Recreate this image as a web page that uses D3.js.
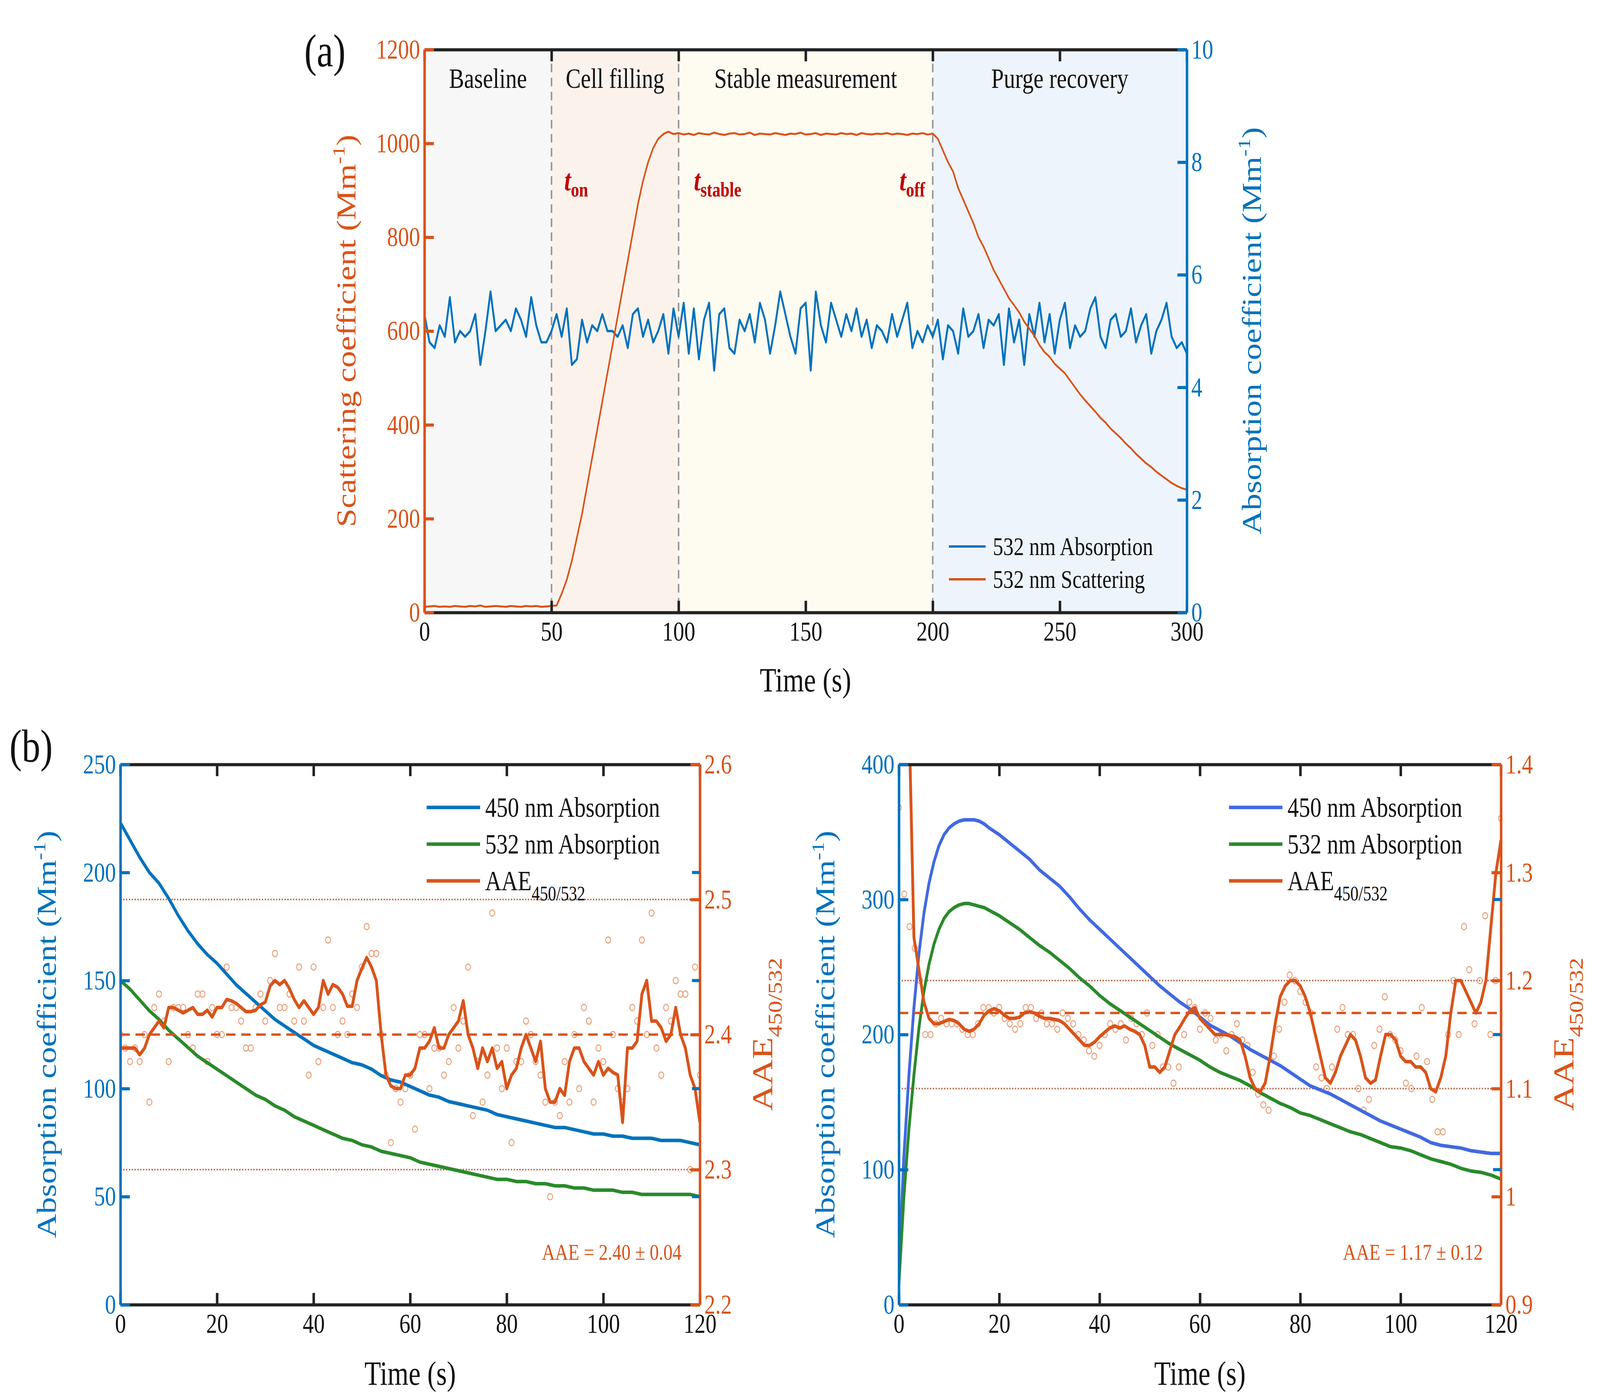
<!DOCTYPE html>
<html><head><meta charset="utf-8">
<script src="https://cdn.jsdelivr.net/npm/d3@7"></script>
<style>
html,body{margin:0;padding:0;background:#fff;overflow:hidden}
svg{display:block;width:100vw;height:100vh}
text{font-family:"Liberation Serif","Times New Roman",serif}
</style></head>
<body><div id="chart"></div>
<script>
// ---- panel (a) data ----
const absA = [5.3,4.8,4.7,5.1,4.9,5.6,4.8,5.0,4.9,5.0,5.3,4.4,5.0,5.7,5.0,5.1,5.2,5.0,5.4,5.2,4.9,5.6,5.1,4.8,4.8,5.0,5.3,4.9,5.4,4.4,4.5,5.2,4.8,5.1,5.0,5.3,5.0,5.0,4.9,5.1,
  4.7,5.3,5.4,4.9,5.2,4.8,5.0,5.3,4.6,5.4,4.9,5.5,4.6,5.4,4.5,5.2,5.5,4.3,5.3,5.4,4.7,4.6,5.2,5.0,5.3,4.8,5.5,5.2,4.6,5.1,
  5.7,5.3,4.9,4.6,5.4,5.5,4.3,5.7,5.1,4.8,5.5,5.2,4.9,5.3,5.0,5.4,4.9,5.2,4.7,5.1,5.0,4.8,5.3,4.9,5.2,5.5,4.7,5.0,4.8,5.1,
  4.9,5.2,4.5,5.1,5.0,4.6,5.4,4.9,5.0,5.3,4.7,5.2,5.1,5.3,4.4,5.4,4.8,5.2,4.4,5.3,4.9,5.5,4.8,5.3,4.6,5.2,5.5,4.7,5.1,4.9,
  5.0,5.4,5.6,4.9,4.7,5.2,5.3,4.9,5.0,5.4,4.8,5.1,5.3,4.6,5.0,5.2,5.5,4.9,4.7,4.8,4.6];
const scatA = [12,13,14,12,13,12,14,13,12,14,13,15,12,13,14,13,12,14,13,12,14,13,14,12,13,14,15,40,70,110,160,210,270,330,390,450,
  510,570,630,690,750,810,870,920,960,990,1010,1020,1025,1020,1022,1019,1021,1018,1022,1020,1019,1023,1020,1018,1021,1022,
  1019,1020,1023,1018,1021,1020,1019,1022,1020,1018,1021,1020,1023,1019,1020,1022,1018,1021,1020,1019,1022,1020,1021,1018,
  1022,1020,1019,1021,1020,1022,1019,1021,1020,1018,1021,1020,1022,1019,1021,1010,985,960,940,905,880,855,830,800,780,755,730,710,690,670,655,
  640,620,605,590,570,555,545,530,520,510,495,480,465,452,440,428,415,405,392,382,372,360,350,338,328,318,310,300,292,
  284,276,270,265,262];
const regionNames = ["Baseline","Cell filling","Stable measurement","Purge recovery"];
const regionEdges = [0,50,100,200,300];
const regionFill = ["#f7f7f8","#fcf2ec","#fefbf1","#eef4fb"];

// ---- panel (b) left data ----
const tLeft = d3.range(0,121,2);
const abs450L = [223,215,207,200,195,188,180,173,167,162,158,153,148,144,140,136,132,129,126,123,120,118,116,114,112,111,109,106,104,103,101,99,97,96,94,93,92,91,90,88,87,86,85,84,83,82,82,81,80,79,79,78,78,77,77,77,76,76,76,75,74];
const abs532L = [150,146,141,136,132,127,123,119,115,112,109,106,103,100,97,95,92,90,87,85,83,81,79,77,76,74,73,71,70,69,68,66,65,64,63,62,61,60,59,58,58,57,57,56,56,55,55,54,54,53,53,53,52,52,51,51,51,51,51,51,50];
const aaeLineL = [2.39,2.39,2.39,2.39,2.385,2.39,2.40,2.405,2.41,2.405,2.42,2.42,2.418,2.416,2.418,2.42,2.415,2.415,2.418,2.413,2.42,2.42,2.426,2.425,2.423,2.42,2.417,2.417,2.418,2.422,2.424,2.436,2.44,2.437,2.44,2.434,2.426,2.42,2.425,2.42,2.415,2.42,2.44,2.43,2.437,2.435,2.43,2.421,2.421,2.44,2.449,2.457,2.45,2.44,2.40,2.37,2.362,2.36,2.36,2.37,2.37,2.375,2.39,2.39,2.395,2.405,2.39,2.39,2.40,2.405,2.41,2.425,2.40,2.39,2.375,2.39,2.38,2.39,2.375,2.38,2.36,2.37,2.375,2.39,2.40,2.39,2.38,2.395,2.36,2.35,2.35,2.36,2.355,2.38,2.39,2.39,2.38,2.375,2.37,2.38,2.37,2.375,2.372,2.37,2.335,2.39,2.39,2.395,2.43,2.44,2.41,2.41,2.405,2.395,2.40,2.42,2.40,2.39,2.37,2.36,2.335];
const aaePtsL = [2.40,2.39,2.38,2.39,2.38,2.40,2.35,2.42,2.43,2.41,2.38,2.42,2.42,2.42,2.40,2.39,2.43,2.43,2.38,2.42,2.40,2.40,2.45,2.42,2.42,2.41,2.39,2.39,2.42,2.43,2.41,2.44,2.46,2.42,2.42,2.43,2.41,2.45,2.41,2.37,2.45,2.38,2.42,2.47,2.42,2.40,2.41,2.40,2.43,2.42,2.45,2.48,2.46,2.46,2.40,2.37,2.32,2.36,2.35,2.36,2.37,2.33,2.40,2.40,2.36,2.39,2.39,2.37,2.38,2.42,2.39,2.41,2.45,2.34,2.38,2.35,2.37,2.49,2.39,2.36,2.39,2.32,2.38,2.38,2.41,2.40,2.38,2.37,2.35,2.28,2.35,2.34,2.38,2.35,2.40,2.36,2.42,2.41,2.35,2.39,2.38,2.47,2.40,2.36,2.35,2.36,2.42,2.41,2.47,2.40,2.49,2.39,2.37,2.42,2.41,2.44,2.43,2.43,2.30,2.45,2.37];

// ---- panel (b) right data ----
const tRight = [0,1,2,3,4,5,6,7,8,9,10,11,12,13,14,15,16,17,18,20,22,24,26,28,30,32,34,36,38,40,42,44,46,48,50,52,54,56,58,60,62,64,66,68,70,72,74,76,78,80,82,84,86,88,90,92,94,96,98,100,102,104,106,108,110,112,114,116,118,120];
const abs450R = [25,110,170,220,260,290,312,328,340,348,353,356,358,359,359,359,358,356,353,348,342,336,330,322,316,310,302,293,285,278,271,264,257,250,243,236,230,224,219,213,207,203,199,194,189,185,181,177,172,167,162,159,156,152,148,144,140,136,133,130,127,124,120,118,117,116,114,113,112,112];
const abs532R = [15,80,130,170,205,232,252,267,278,286,291,294,296,297,297,296,295,294,292,288,283,278,272,266,261,255,249,242,236,229,223,218,213,208,203,198,193,189,185,181,176,172,169,166,162,157,153,149,146,142,140,137,134,131,128,126,123,120,117,116,114,111,108,106,104,101,99,98,96,93];
const aaeLineR = [1.6,1.6,1.45,1.24,1.21,1.18,1.165,1.16,1.16,1.162,1.164,1.163,1.16,1.155,1.153,1.155,1.16,1.168,1.172,1.174,1.172,1.168,1.165,1.165,1.166,1.17,1.171,1.17,1.167,1.165,1.165,1.164,1.163,1.16,1.155,1.15,1.145,1.14,1.14,1.143,1.148,1.152,1.156,1.158,1.156,1.158,1.155,1.153,1.15,1.14,1.12,1.12,1.115,1.12,1.135,1.15,1.157,1.165,1.172,1.175,1.165,1.16,1.155,1.15,1.15,1.15,1.149,1.148,1.145,1.13,1.11,1.1,1.097,1.105,1.13,1.16,1.185,1.195,1.2,1.2,1.195,1.185,1.17,1.15,1.13,1.11,1.105,1.115,1.13,1.14,1.15,1.145,1.13,1.11,1.105,1.108,1.13,1.15,1.15,1.145,1.13,1.125,1.125,1.12,1.12,1.115,1.1,1.097,1.11,1.13,1.17,1.2,1.2,1.19,1.18,1.17,1.18,1.2,1.25,1.3,1.33];
const aaePtsR = [1.36,1.28,1.25,1.23,1.2,1.15,1.15,1.16,1.165,1.16,1.16,1.16,1.155,1.15,1.15,1.16,1.175,1.175,1.17,1.175,1.165,1.16,1.155,1.16,1.175,1.175,1.165,1.17,1.16,1.16,1.155,1.17,1.165,1.16,1.15,1.145,1.135,1.13,1.14,1.15,1.16,1.155,1.16,1.145,1.165,1.16,1.15,1.17,1.14,1.15,1.12,1.12,1.105,1.12,1.15,1.18,1.175,1.155,1.17,1.165,1.145,1.15,1.135,1.15,1.16,1.145,1.14,1.115,1.095,1.085,1.08,1.13,1.155,1.18,1.205,1.2,1.19,1.18,1.17,1.12,1.11,1.1,1.12,1.155,1.175,1.15,1.15,1.1,1.08,1.09,1.14,1.155,1.185,1.15,1.145,1.135,1.105,1.1,1.13,1.175,1.125,1.09,1.06,1.06,1.15,1.2,1.15,1.25,1.21,1.16,1.2,1.26,1.15,1.2,1.35];

const BLUE="#0072bd", ORANGE="#d95319", GREEN="#2a8a2a", ROYAL="#4169e1", DARKRED="#c00000", DOT="#b5603e";
const W=5089, H=3584, TICK=70, LAB=86;

// stretch the drawing to the whole window
const svg = d3.select("#chart").append("svg").attr("viewBox",`0 0 ${W} ${H}`).attr("preserveAspectRatio","none");
svg.append("rect").attr("width",W).attr("height",H).attr("fill","#fff");

function styleAxis(sel, col) {
  sel.selectAll("path,line").attr("stroke",col).attr("stroke-width",8);
  sel.selectAll("text").attr("fill",col).attr("font-size",TICK).attr("font-family","Liberation Serif");
}

function axes(g, x, yL, yR, o) {
  const [x0,x1]=x.range(), [b,t]=yL.range();
  const ab=g.append("g").attr("transform",`translate(0,${b})`).call(d3.axisBottom(x).tickValues(o.xt).tickSize(-30).tickSizeOuter(0).tickPadding(22));
  const at=g.append("g").attr("transform",`translate(0,${t})`).call(d3.axisTop(x).tickValues(o.xt).tickSize(-30).tickSizeOuter(0).tickFormat(""));
  const al=g.append("g").attr("transform",`translate(${x0},0)`).call(d3.axisLeft(yL).tickValues(o.ylt).tickSize(-30).tickSizeOuter(0).tickPadding(14).tickFormat(d3.format("d")));
  const ar=g.append("g").attr("transform",`translate(${x1},0)`).call(d3.axisRight(yR).tickValues(o.yrt).tickSize(-30).tickSizeOuter(0).tickPadding(14).tickFormat(o.yrf||d3.format("d")));
  styleAxis(ab,"#222"); styleAxis(at,"#222");
  ab.selectAll("text").attr("fill","#111");
  styleAxis(al,o.lc); styleAxis(ar,o.rc);
  if (o.mirror) {
    g.append("g").selectAll("line").data(o.ylt.slice(1,-1)).join("line")
      .attr("x1",x1-25).attr("x2",x1).attr("y1",d=>yL(d)).attr("y2",d=>yL(d)).attr("stroke",o.lc).attr("stroke-width",8);
  }
}

function line(g, xs, ys, x, y, col, w) {
  g.append("path").datum(ys.map((v,i)=>[xs[i],v]))
    .attr("d",d3.line().x(d=>x(d[0])).y(d=>y(d[1])))
    .attr("fill","none").attr("stroke",col).attr("stroke-width",w).attr("stroke-linejoin","round");
}

function ylabel(x, y, col, html, size) {
  svg.append("text").attr("transform",`translate(${x},${y}) rotate(-90)`).attr("text-anchor","middle")
    .attr("fill",col).attr("font-size",size||LAB).html(html);
}

// ================= panel (a) =================
{
  const x=d3.scaleLinear([0,300],[1350,3775]);
  const yS=d3.scaleLinear([0,1200],[1568,127]);
  const yA=d3.scaleLinear([0,10],[1568,127]);
  const g=svg.append("g");
  regionNames.forEach((n,i)=>{
    g.append("rect").attr("x",x(regionEdges[i])).attr("y",127).attr("width",x(regionEdges[i+1])-x(regionEdges[i])).attr("height",1441).attr("fill",regionFill[i]);
    g.append("text").attr("x",x((regionEdges[i]+regionEdges[i+1])/2)).attr("y",225).attr("text-anchor","middle").attr("font-size",72).attr("fill","#111").text(n);
  });
  [50,100,200].forEach(v=>g.append("line").attr("x1",x(v)).attr("x2",x(v)).attr("y1",127).attr("y2",1568).attr("stroke","#999").attr("stroke-width",5).attr("stroke-dasharray","22,14"));
  line(g, d3.range(0,301,2), absA, x, yA, BLUE, 6);
  line(g, d3.range(0,301,2), scatA, x, yS, ORANGE, 5);
  const tl=[["on",55,"start"],["stable",106,"start"],["off",197,"end"]];
  tl.forEach(([s,t,a])=>g.append("text").attr("x",x(t)).attr("y",yS(900)).attr("text-anchor",a).attr("fill",DARKRED).attr("font-size",76).attr("font-weight","bold")
    .html(`<tspan font-style="italic">t</tspan><tspan font-size="52" dy="16">${s}</tspan>`));
  axes(g,x,yS,yA,{xt:d3.range(0,301,50),ylt:d3.range(0,1201,200),yrt:d3.range(0,11,2),lc:ORANGE,rc:BLUE});
  [["532 nm Absorption",BLUE],["532 nm Scattering",ORANGE]].forEach(([n,c],i)=>{
    const yy=1399+i*84;
    g.append("line").attr("x1",3018).attr("x2",3135).attr("y1",yy).attr("y2",yy).attr("stroke",c).attr("stroke-width",6);
    g.append("text").attr("x",3158).attr("y",yy+22).attr("font-size",66).attr("fill","#111").text(n);
  });
  svg.append("text").attr("x",2562).attr("y",1770).attr("text-anchor","middle").attr("font-size",LAB).attr("fill","#111").text("Time (s)");
  ylabel(1130,847,ORANGE,'Scattering coefficient (Mm<tspan font-size="56" dy="-34">-1</tspan><tspan dy="34">)</tspan>');
  ylabel(4010,847,BLUE,'Absorption coefficient (Mm<tspan font-size="56" dy="-34">-1</tspan><tspan dy="34">)</tspan>');
  svg.append("text").attr("x",968).attr("y",170).attr("font-size",118).attr("fill","#111").text("(a)");
}

// ================= panel (b) =================
function panelB(o) {
  const x=d3.scaleLinear([0,120],[o.x0,o.x1]);
  const yL=d3.scaleLinear(o.yld,[3340,1957]);
  const yR=d3.scaleLinear(o.yrd,[3340,1957]);
  const g=svg.append("g");
  const cid="clip"+o.x0;
  g.append("clipPath").attr("id",cid).append("rect").attr("x",o.x0).attr("y",1957).attr("width",o.x1-o.x0).attr("height",1383);
  const p=g.append("g").attr("clip-path",`url(#${cid})`);
  o.dotted.forEach(v=>p.append("line").attr("x1",o.x0).attr("x2",o.x1).attr("y1",yR(v)).attr("y2",yR(v)).attr("stroke",DOT).attr("stroke-width",4).attr("stroke-dasharray","4,5"));
  p.append("g").selectAll("circle").data(o.pts).join("circle")
    .attr("cx",(d,i)=>x(i*120/(o.pts.length-1))).attr("cy",d=>yR(d)).attr("r",8)
    .attr("fill","none").attr("stroke","#eba37f").attr("stroke-width",3);
  line(p,o.t,o.a450,x,yL,o.c450,9);
  line(p,o.t,o.a532,x,yL,GREEN,9);
  p.append("line").attr("x1",o.x0).attr("x2",o.x1).attr("y1",yR(o.mean)).attr("y2",yR(o.mean)).attr("stroke",ORANGE).attr("stroke-width",6).attr("stroke-dasharray","30,18");
  line(p,d3.range(0,121),o.aae,x,yR,ORANGE,9);
  axes(g,x,yL,yR,{xt:d3.range(0,121,20),ylt:o.ylt,yrt:o.yrt,lc:BLUE,rc:ORANGE,mirror:true,yrf:o.yrf});
  [["450 nm Absorption",o.c450],["532 nm Absorption",GREEN],["AAE",ORANGE]].forEach(([n,c],i)=>{
    const yy=2067+i*94;
    g.append("line").attr("x1",o.lx).attr("x2",o.lx+170).attr("y1",yy).attr("y2",yy).attr("stroke",c).attr("stroke-width",9);
    g.append("text").attr("x",o.lx+186).attr("y",yy+24).attr("font-size",72).attr("fill","#111")
      .html(i<2?n:'AAE<tspan font-size="52" dy="26">450/532</tspan>');
  });
  g.append("text").attr("x",o.x1-58).attr("y",3225).attr("text-anchor","end").attr("font-size",58).attr("fill",ORANGE).text(o.note);
  svg.append("text").attr("x",(o.x0+o.x1)/2).attr("y",3545).attr("text-anchor","middle").attr("font-size",LAB).attr("fill","#111").text("Time (s)");
  ylabel(o.x0-205,2648,BLUE,'Absorption coefficient (Mm<tspan font-size="56" dy="-34">-1</tspan><tspan dy="34">)</tspan>');
  ylabel(o.x1+230,2648,ORANGE,'AAE<tspan font-size="62" dy="30">450/532</tspan>',92);
}
panelB({x0:383,x1:2226,yld:[0,250],yrd:[2.2,2.6],ylt:d3.range(0,251,50),yrt:[2.2,2.3,2.4,2.5,2.6],yrf:d3.format(".1f"),
  t:tLeft,a450:abs450L,a532:abs532L,aae:aaeLineL,pts:aaePtsL,c450:BLUE,dotted:[2.3,2.5],mean:2.40,lx:1357,note:"AAE = 2.40 ± 0.04"});
panelB({x0:2859,x1:4774,yld:[0,400],yrd:[0.9,1.4],ylt:d3.range(0,401,100),yrt:[0.9,1,1.1,1.2,1.3,1.4],yrf:d=>d===1?"1":d3.format(".1f")(d),
  t:tRight,a450:abs450R,a532:abs532R,aae:aaeLineR,pts:aaePtsR,c450:ROYAL,dotted:[1.1,1.2],mean:1.17,lx:3909,note:"AAE = 1.17 ± 0.12"});
svg.append("text").attr("x",30).attr("y",1950).attr("font-size",118).attr("fill","#111").text("(b)");
</script></body></html>
